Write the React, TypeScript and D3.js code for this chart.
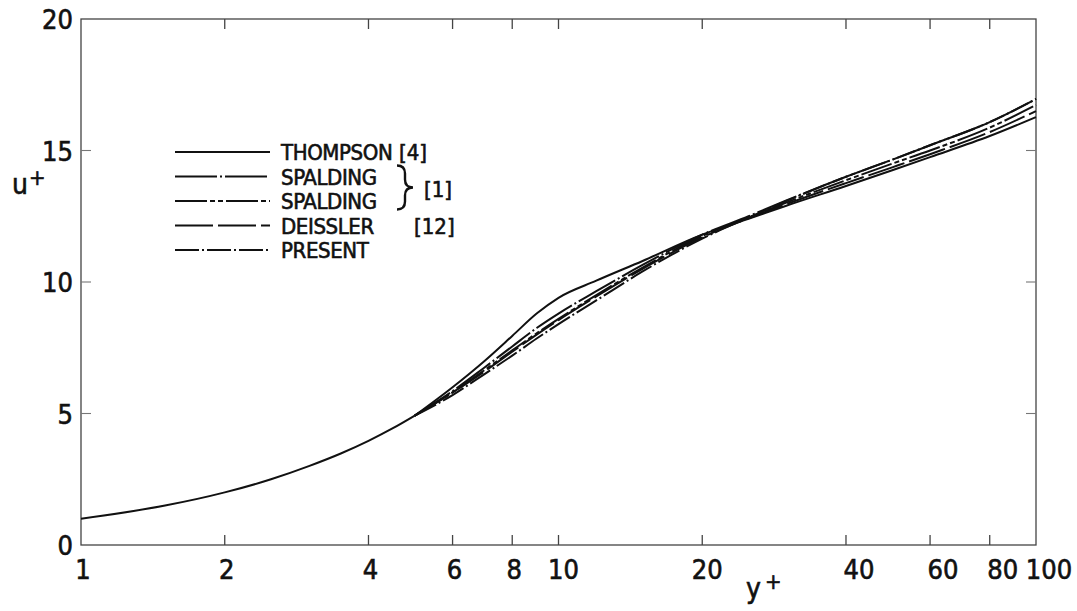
import React from "react";
import * as d3 from "d3";

// Wall-law velocity profiles u+ against y+ (log axis)
const sublayerY = [1, 1.5, 2, 2.5, 3, 3.5, 4, 4.5, 5];
const sublayerU = [1, 1.5, 2, 2.5, 3, 3.48, 3.96, 4.44, 4.92];

const yPlus = [5, 6, 7, 8, 9, 10, 12, 15, 20, 25, 30, 40, 50, 60, 80, 100];
const thompson = [4.92, 6.0, 7.0, 7.95, 8.8, 9.4, 10.05, 10.8, 11.8, 12.4, 12.9, 13.65, 14.25, 14.75, 15.55, 16.27];
const spalding1 = [4.92, 5.85, 6.75, 7.55, 8.25, 8.8, 9.65, 10.65, 11.8, 12.5, 13.1, 14.0, 14.65, 15.2, 16.08, 16.96];
const spalding2 = [4.92, 5.8, 6.65, 7.4, 8.05, 8.6, 9.5, 10.55, 11.75, 12.45, 13.02, 13.87, 14.5, 15.0, 15.87, 16.73];
const deissler = [4.92, 5.8, 6.6, 7.35, 8.0, 8.55, 9.45, 10.5, 11.7, 12.42, 12.96, 13.76, 14.36, 14.86, 15.7, 16.5];
const present = [4.92, 5.7, 6.5, 7.2, 7.85, 8.4, 9.3, 10.4, 11.65, 12.45, 13.08, 14.0, 14.65, 15.2, 16.08, 16.96];

const xTickValues = [1, 2, 4, 6, 8, 10, 20, 40, 60, 80, 100];
const yTickValues = [0, 5, 10, 15, 20];

const seriesNames = ["THOMPSON", "SPALDING", "SPALDING", "DEISSLER", "PRESENT"];
const seriesValues = [thompson, spalding1, spalding2, deissler, present];
const seriesDash = ["none", "42 3 2 3", "32 3 5 3 5 3", "38 5", "24 3 2 3"];

const W = 1077;
const H = 611;
const left = 81;
const right = 1036;
const top = 19;
const bottom = 545;
const FONT = "'DejaVu Sans Condensed', 'DejaVu Sans', sans-serif";
const INK = "#111";

export default function App() {
  const x = d3.scaleLog().domain([1, 100]).range([left, right]);
  const y = d3.scaleLinear().domain([0, 20]).range([bottom, top]);

  const line = d3
    .line<[number, number]>()
    .x((d) => x(d[0]))
    .y((d) => y(d[1]))
    .curve(d3.curveMonotoneX);

  const sublayerPath = line(sublayerY.map((v, i) => [v, sublayerU[i]]) as [number, number][]) || "";

  const legendX0 = 175;
  const legendX1 = 270;
  const legendTextX = 281;
  const rowY = (i: number) => 152 + i * 24.5;

  const tickLen = 10;
  const textInk = { fill: INK, stroke: INK, strokeWidth: 0.6 };

  return (
    <svg
      width={W}
      height={H}
      style={{ position: "absolute", left: 0, top: 0, background: "#fff" }}
      fontFamily={FONT}
    >
      {/* frame */}
      <rect x={left} y={top} width={right - left} height={bottom - top} fill="none" stroke="#444" strokeWidth={1.3} />

      {/* x ticks, top and bottom */}
      {xTickValues.slice(1, -1).map((v) => (
        <g key={"xt" + v}>
          <line x1={x(v)} x2={x(v)} y1={bottom} y2={bottom - tickLen} stroke="#444" strokeWidth={1.3} />
          <line x1={x(v)} x2={x(v)} y1={top} y2={top + tickLen} stroke="#444" strokeWidth={1.3} />
        </g>
      ))}
      {/* y ticks, left and right */}
      {yTickValues.slice(1, -1).map((v) => (
        <g key={"yt" + v}>
          <line x1={left} x2={left + tickLen} y1={y(v)} y2={y(v)} stroke="#777" strokeWidth={1.1} />
          <line x1={right} x2={right - tickLen} y1={y(v)} y2={y(v)} stroke="#777" strokeWidth={1.1} />
        </g>
      ))}

      {/* x tick labels */}
      {xTickValues.map((v) => (
        <text
          key={"xl" + v}
          x={x(v) + (v >= 40 ? 13 : v >= 10 ? 5 : 2)}
          y={bottom + 34}
          textAnchor="middle"
          fontSize={27}
          {...textInk}
        >
          {v}
        </text>
      ))}
      {/* y tick labels */}
      {yTickValues.map((v) => (
        <text key={"yl" + v} x={left - 8} y={y(v) + 10} textAnchor="end" fontSize={27} {...textInk}>
          {v}
        </text>
      ))}

      {/* axis titles */}
      <text x={12} y={194} fontSize={28} {...textInk}>
        u<tspan dx={1} dy={-9} fontSize={22}>+</tspan>
      </text>
      <text x={746} y={598} fontSize={28} {...textInk}>
        y<tspan dx={4} dy={-9} fontSize={22}>+</tspan>
      </text>

      {/* shared viscous sublayer */}
      <path d={sublayerPath} fill="none" stroke={INK} strokeWidth={2} />

      {/* profiles */}
      {seriesValues.map((vals, i) => (
        <path
          key={"s" + i}
          d={line(yPlus.map((v, j) => [v, vals[j]]) as [number, number][]) || ""}
          fill="none"
          stroke={INK}
          strokeWidth={2}
          strokeDasharray={seriesDash[i]}
        />
      ))}

      {/* legend */}
      {seriesNames.map((name, i) => (
        <g key={"lg" + i}>
          <line
            x1={legendX0}
            x2={legendX1}
            y1={rowY(i)}
            y2={rowY(i)}
            stroke={INK}
            strokeWidth={2}
            strokeDasharray={seriesDash[i]}
          />
          <text x={legendTextX} y={rowY(i) + 8} fontSize={22} letterSpacing={-0.4} {...textInk}>
            {name}
          </text>
        </g>
      ))}
      <text x={399} y={rowY(0) + 8} fontSize={22} {...textInk}>[4]</text>
      <path
        d={`M397,${rowY(1) - 11} q8,0 8,8 v6 q0,8 8,8 q-8,0 -8,8 v6 q0,8 -8,8`}
        fill="none"
        stroke={INK}
        strokeWidth={2.4}
      />
      <text x={424} y={rowY(1) + 20} fontSize={22} {...textInk}>[1]</text>
      <text x={414} y={rowY(3) + 8} fontSize={22} {...textInk}>[12]</text>
    </svg>
  );
}
